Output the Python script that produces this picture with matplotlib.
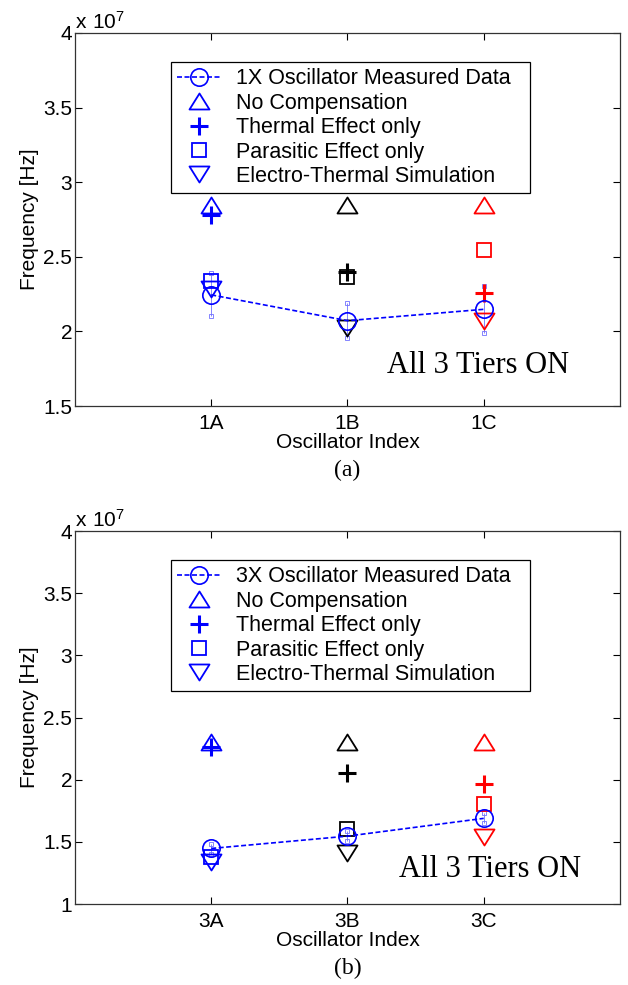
import numpy as np
import matplotlib
matplotlib.use("Agg")
from matplotlib import pyplot as plt
from matplotlib.lines import Line2D
from matplotlib.path import Path
from matplotlib.ticker import FuncFormatter

plt.rcParams['font.family'] = ['Liberation Sans', 'DejaVu Sans']

# data, in Hz
idx_a = ['1A', '1B', '1C']
meas_a = [2.245e7, 2.072e7, 2.148e7]
err_lo_a = [2.105e7, 1.955e7, 1.990e7]
err_hi_a = [2.394e7, 2.190e7, 2.307e7]
nocomp_a = [2.85e7, 2.85e7, 2.85e7]
thermal_a = [2.78e7, 2.40e7, 2.256e7]
parasitic_a = [2.34e7, 2.365e7, 2.544e7]
etsim_a = [2.286e7, 2.023e7, 2.072e7]

idx_b = ['3A', '3B', '3C']
meas_b = [1.447e7, 1.546e7, 1.689e7]
err_lo_b = [1.400e7, 1.507e7, 1.653e7]
err_hi_b = [1.480e7, 1.586e7, 1.729e7]
nocomp_b = [2.30e7, 2.30e7, 2.30e7]
thermal_b = [2.26e7, 2.05e7, 1.962e7]
parasitic_b = [1.375e7, 1.600e7, 1.806e7]
etsim_b = [1.337e7, 1.407e7, 1.541e7]

point_colors = ['blue', 'black', 'red']
# matlab style triangles: a bit wider than tall
tri_up = Path([(-1, -0.8), (1, -0.8), (0, 0.8), (-1, -0.8)], closed=True)
tri_dn = Path([(-1, 0.8), (1, 0.8), (0, -0.8), (-1, 0.8)], closed=True)
serif = ['Liberation Serif', 'DejaVu Serif']
FS = 15
LFS = 15.5


def panel(ax, idx, meas, lo, hi, nocomp, thermal, parasitic, etsim,
          ymin, meas_label, tag):
    x = np.arange(1, len(idx) + 1)
    # error bars with small square ends
    ax.vlines(x, lo, hi, color='#7070ff', lw=0.6, zorder=2)
    ax.plot(x, lo, 's', ms=3.5, mfc='none', mec='#7070ff', mew=0.6, zorder=2)
    ax.plot(x, hi, 's', ms=3.5, mfc='none', mec='#7070ff', mew=0.6, zorder=2)
    ax.plot(x, meas, '--', color='blue', lw=1.2, dashes=(3, 1.5), marker='o',
            ms=12.5, mfc='none', mew=1.2, zorder=4)
    for i, c in enumerate(point_colors):
        ax.plot(x[i], nocomp[i], marker=tri_up, ms=14.4, mfc='none', mec=c, mew=1.3, ls='none')
        ax.plot(x[i], thermal[i], marker='+', ms=12.5, mec=c, mew=2.2, ls='none')
        ax.plot(x[i], parasitic[i], marker='s', ms=10, mfc='none', mec=c, mew=1.3, ls='none')
        ax.plot(x[i], etsim[i], marker=tri_dn, ms=14.4, mfc='none', mec=c, mew=1.3, ls='none')

    ax.set_xlim(0, 4)
    ax.set_ylim(ymin, 4e7)
    ax.set_xticks(x)
    ax.set_xticklabels(idx)
    ax.set_yticks(np.arange(ymin, 4.01e7, 0.5e7))
    ax.yaxis.set_major_formatter(FuncFormatter(lambda v, p: '%g' % (v / 1e7)))
    ax.tick_params(direction='in', top=True, right=True, length=5, width=0.8,
                   labelsize=FS)
    ax.tick_params(axis='x', pad=6)
    ax.tick_params(axis='y', pad=2)
    for s in ax.spines.values():
        s.set_linewidth(0.9)
        s.set_color('#333333')
    ax.set_xlabel('Oscillator Index', fontsize=FS, labelpad=0)
    ax.set_ylabel('Frequency [Hz]', fontsize=FS, labelpad=3)
    ax.text(0.0, 1.0, r'$\mathregular{x\ 10^{7}}$', transform=ax.transAxes,
            ha='left', va='bottom', fontsize=FS)
    ax.text(0.572, 0.088, 'All 3 Tiers ON', transform=ax.transAxes,
            family=serif, fontsize=22, ha='left', va='baseline')
    ax.text(0.5, -0.172, tag, transform=ax.transAxes, family=serif,
            fontsize=17, ha='center', va='center')

    handles = [
        Line2D([], [], color='blue', ls='--', dashes=(3, 1.5), lw=1.2, marker='o',
               ms=12.5, mfc='none', mew=1.2),
        Line2D([], [], color='blue', ls='none', marker=tri_up, ms=14.4, mfc='none', mew=1.3),
        Line2D([], [], color='blue', ls='none', marker='+', ms=12.5, mew=2.2),
        Line2D([], [], color='blue', ls='none', marker='s', ms=10, mfc='none', mew=1.3),
        Line2D([], [], color='blue', ls='none', marker=tri_dn, ms=14.4, mfc='none', mew=1.3),
    ]
    labels = [meas_label, 'No Compensation', 'Thermal Effect only',
              'Parasitic Effect only', 'Electro-Thermal Simulation']
    leg = ax.legend(handles, labels, loc='upper left',
                    bbox_to_anchor=(0.1756, 0.5745, 0.6587, 0.3485), mode='expand',
                    borderaxespad=0, fontsize=LFS, frameon=True, fancybox=False,
                    edgecolor='black', framealpha=1, borderpad=0.3,
                    labelspacing=0.16, handlelength=2.0, handletextpad=0.75)
    leg.get_frame().set_linewidth(0.9)


fig = plt.figure(figsize=(6.28, 9.85), dpi=100)
ax1 = fig.add_axes([0.1194, 0.5878, 0.8678, 0.3787])
ax2 = fig.add_axes([0.1194, 0.0822, 0.8678, 0.3787])

panel(ax1, idx_a, meas_a, err_lo_a, err_hi_a, nocomp_a, thermal_a, parasitic_a,
      etsim_a, 1.5e7, '1X Oscillator Measured Data', '(a)')
panel(ax2, idx_b, meas_b, err_lo_b, err_hi_b, nocomp_b, thermal_b, parasitic_b,
      etsim_b, 1.0e7, '3X Oscillator Measured Data', '(b)')
ax2.texts[1].set_position((0.595, 0.0716))

fig.savefig('out.png', dpi=100)
